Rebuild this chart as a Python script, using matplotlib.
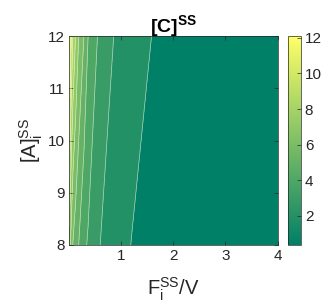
import numpy as np
import matplotlib as mpl
import matplotlib.pyplot as plt

mpl.rcParams['font.family'] = ['Liberation Sans', 'DejaVu Sans']
mpl.rcParams['mathtext.fontset'] = 'custom'
mpl.rcParams['mathtext.rm'] = 'Liberation Sans'
mpl.rcParams['mathtext.it'] = 'Liberation Sans:italic'
mpl.rcParams['mathtext.bf'] = 'Liberation Sans:bold'

# inlet flow / volume (x), inlet [A] (y), steady state [C]
flow = np.array([0.01, 0.04, 0.08, 0.13, 0.19, 0.29, 0.37, 0.55, 0.86,
                 1.2, 1.6, 2.0, 2.5, 3.0, 3.5, 4.0])
a_in = np.array([8, 12])
c_ss = np.array([
    [7.6, 6.8, 5.95, 5.5, 5.0, 4.2, 3.9, 3.1, 2.5,
     1.98, 1.6, 1.2, 0.9, 0.7, 0.5, 0.37],
    [12.1, 10.3, 8.95, 8.0, 7.0, 6.0, 5.0, 4.0, 3.0,
     2.5, 1.98, 1.6, 1.3, 1.05, 0.85, 0.7],
])
levels = [2, 3, 4, 5, 6, 7, 8, 9, 10, 11]
cbar_ticks = [2, 4, 6, 8, 10, 12]

W, H = 326, 306
fig = plt.figure(figsize=(W / 100, H / 100), dpi=100)
ax = fig.add_axes([69.3 / W, 1 - 245 / H, 208.4 / W, 209 / H])

cmap = mpl.colormaps['summer']
norm = mpl.colors.Normalize(c_ss.min(), c_ss.max())
# matlab style: each band gets the colour of its lower level
bounds = np.concatenate([[c_ss.min() - 1e-6], levels, [c_ss.max() + 1e-6]])
band_cols = [cmap(norm(max(b, c_ss.min()))) for b in bounds[:-1]]
ax.contourf(flow, a_in, c_ss, levels=bounds, colors=band_cols)
ax.contour(flow, a_in, c_ss, levels=levels, colors='w',
           linewidths=0.5, alpha=0.6)

ax.set_xlim(0.01, 4)
ax.set_ylim(8, 12)
ax.set_xticks([1, 2, 3, 4])
ax.set_yticks([8, 9, 10, 11, 12])
dark = '0.15'
ax.tick_params(direction='in', top=True, right=True, length=3, width=0.5,
               labelsize=11, colors=dark, pad=3)
for s in ax.spines.values():
    s.set_color(dark)
    s.set_linewidth(0.5)

ax.set_title(r'$\mathbf{[C]^{SS}}$', fontsize=14, pad=3, color='k')
ax.set_xlabel(r'$\mathrm{F_i^{SS}/V}$', fontsize=14.5, color=dark, labelpad=9)
ax.set_ylabel(r'$\mathrm{[A]_i^{SS}}$', fontsize=14.5, color=dark, labelpad=2)

cax = fig.add_axes([288.3 / W, 1 - 245 / H, 12.4 / W, 209 / H])
cb = fig.colorbar(mpl.cm.ScalarMappable(norm=norm, cmap=cmap), cax=cax,
                  ticks=cbar_ticks)
cb.outline.set_edgecolor(dark)
cb.outline.set_linewidth(0.5)
cax.tick_params(direction='in', length=3, width=0.5, labelsize=11,
                colors=dark, pad=3)

fig.savefig('out.png', dpi=100)
